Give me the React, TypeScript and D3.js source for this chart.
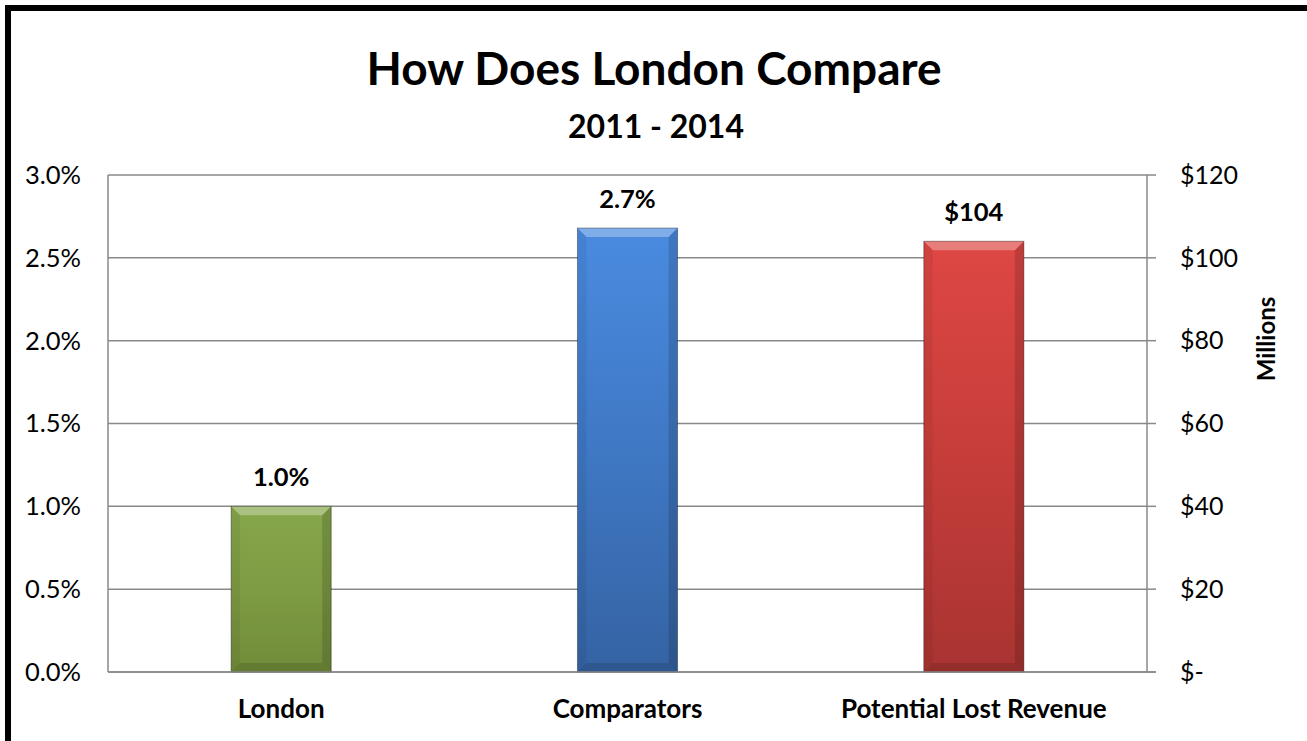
import React from "react";
import * as d3 from "d3";

const categories = ["London", "Comparators", "Potential Lost Revenue"];
const percentValues = [0.01, 0.0268];
const revenueValue = 104;
const valueLabels = ["1.0%", "2.7%", "$104"];
const leftTicks = [0, 0.005, 0.01, 0.015, 0.02, 0.025, 0.03];
const rightTicks = [0, 20, 40, 60, 80, 100, 120];
const barColors = [
  ["#87a74b", "#7e9c43", "#718c39"],
  ["#4a8be0", "#3f78c4", "#3563a3"],
  ["#de4744", "#c63d3a", "#a83431"],
];

const W = 1307;
const H = 741;
const M = { left: 108, right: 1147, top: 175, bottom: 672 };
const FONT = "Lato, 'Open Sans', sans-serif";

export default function App() {
  const x = d3
    .scaleBand<string>()
    .domain(categories)
    .range([M.left, M.right])
    .paddingInner(0.711)
    .paddingOuter(0.3555);
  const yL = d3.scaleLinear().domain([0, 0.03]).range([M.bottom, M.top]);
  const yR = d3.scaleLinear().domain([0, 120]).range([M.bottom, M.top]);
  const fmtL = d3.format(".1%");
  const fmtR = (v: number) => (v === 0 ? "$-" : `$${v}`);

  const bars = categories.map((c, i) => {
    const x0 = x(c)!;
    const w = x.bandwidth();
    const top = i < 2 ? yL(percentValues[i]) : yR(revenueValue);
    return { c, i, x0, w, top, h: M.bottom - top };
  });

  const bev = 9;

  return (
    <svg
      width={W}
      height={H}
      style={{ position: "absolute", left: 0, top: 0, background: "#fff" }}
      fontFamily={FONT}
    >
      <defs>
        {bars.map((b) => (
          <linearGradient key={b.i} id={`g${b.i}`} x1="0" y1="0" x2="0" y2="1">
            <stop offset="0" stopColor={barColors[b.i][0]} />
            <stop offset="0.5" stopColor={barColors[b.i][1]} />
            <stop offset="1" stopColor={barColors[b.i][2]} />
          </linearGradient>
        ))}
      </defs>
      <rect x={0} y={0} width={W} height={H} fill="#fff" />
      {/* outer frame */}
      <rect x={8} y={8} width={W + 50} height={H + 50} fill="none" stroke="#000" strokeWidth={6} />

      {/* title */}
      <text x={654} y={85} textAnchor="middle" fontSize={46} fontWeight="bold" fill="#000">
        How Does London Compare
      </text>
      <text x={656} y={138} textAnchor="middle" fontSize={32} fontWeight="bold" fill="#000">
        2011 - 2014
      </text>

      {/* gridlines */}
      {leftTicks.map((t) => (
        <line key={t} x1={M.left} x2={M.right} y1={yL(t)} y2={yL(t)} stroke="#898989" strokeWidth={1.5} />
      ))}
      {/* left axis line */}
      <line x1={M.left} x2={M.left} y1={M.top} y2={M.bottom} stroke="#898989" strokeWidth={1.5} />
      {/* right axis */}
      <line x1={M.right} x2={M.right} y1={M.top} y2={M.bottom} stroke="#898989" strokeWidth={1.5} />
      {rightTicks.map((t) => (
        <line key={t} x1={M.right} x2={M.right + 9} y1={yR(t)} y2={yR(t)} stroke="#898989" strokeWidth={1.5} />
      ))}

      {/* left tick labels */}
      {leftTicks.map((t) => (
        <text key={t} x={81} y={yL(t)} dy="0.35em" textAnchor="end" fontSize={25.5} fill="#000">
          {fmtL(t)}
        </text>
      ))}
      {/* right tick labels */}
      {rightTicks.map((t) => (
        <text key={t} x={1180} y={yR(t)} dy="0.35em" textAnchor="start" fontSize={25} fill="#000">
          {fmtR(t)}
        </text>
      ))}
      <text
        transform={`translate(1275,339) rotate(-90)`}
        textAnchor="middle"
        fontSize={24}
        fontWeight="bold"
        fill="#000"
      >
        Millions
      </text>

      {/* bars */}
      {bars.map((b) => {
        const { x0, w, top, h } = b;
        const x1 = x0 + w;
        const y1 = M.bottom;
        return (
          <g key={b.c}>
            <rect x={x0} y={top} width={w} height={h} fill={`url(#g${b.i})`} />
            {/* top bevel */}
            <polygon
              points={`${x0},${top} ${x1},${top} ${x1 - bev},${top + bev} ${x0 + bev},${top + bev}`}
              fill="#fff"
              fillOpacity={0.3}
            />
            {/* left bevel */}
            <polygon
              points={`${x0},${top} ${x0 + bev},${top + bev} ${x0 + bev},${y1 - bev} ${x0},${y1}`}
              fill="#000"
              fillOpacity={0.06}
            />
            {/* right bevel */}
            <polygon
              points={`${x1},${top} ${x1 - bev},${top + bev} ${x1 - bev},${y1 - bev} ${x1},${y1}`}
              fill="#000"
              fillOpacity={0.14}
            />
            {/* bottom bevel */}
            <polygon
              points={`${x0},${y1} ${x1},${y1} ${x1 - bev},${y1 - bev} ${x0 + bev},${y1 - bev}`}
              fill="#000"
              fillOpacity={0.12}
            />
            <rect x={x0} y={top} width={w} height={h} fill="none" stroke="#000" strokeOpacity={0.35} strokeWidth={1} />
            <text
              x={x0 + w / 2}
              y={top - 20}
              textAnchor="middle"
              fontSize={25.5}
              fontWeight="bold"
              fill="#000"
            >
              {valueLabels[b.i]}
            </text>
            <text
              x={x0 + w / 2}
              y={718}
              textAnchor="middle"
              fontSize={26}
              fontWeight="bold"
              fill="#000"
            >
              {b.c}
            </text>
          </g>
        );
      })}
      {/* redraw baseline over bars */}
      <line x1={M.left} x2={M.right + 9} y1={M.bottom} y2={M.bottom} stroke="#898989" strokeWidth={1.5} />
    </svg>
  );
}
